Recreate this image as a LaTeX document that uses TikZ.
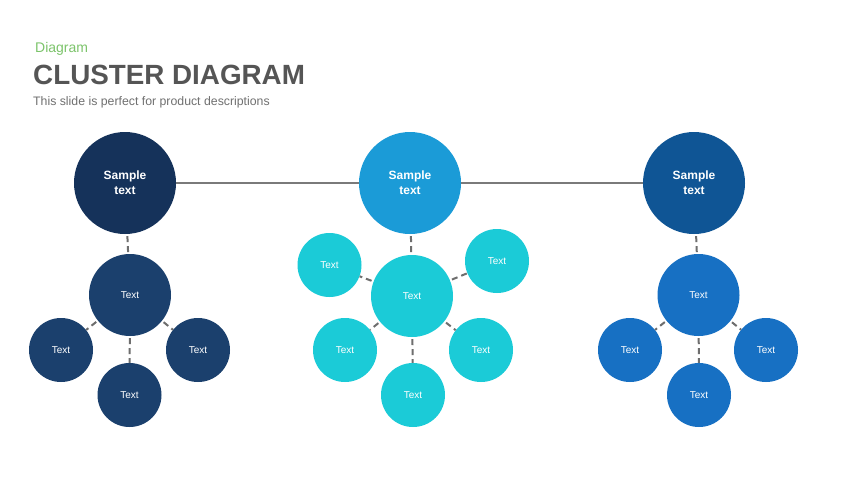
\documentclass[tikz,border=0pt]{standalone}
\usepackage{fontspec}
\setmainfont{Liberation Sans}
\definecolor{lbig}{HTML}{15325A}
\definecolor{lkid}{HTML}{1B406D}
\definecolor{mbig}{HTML}{1B9BD7}
\definecolor{mkid}{HTML}{1BCBD7}
\definecolor{rbig}{HTML}{0F5595}
\definecolor{rkid}{HTML}{1770C3}
\definecolor{linegray}{HTML}{7A7A7A}
\definecolor{dashgray}{HTML}{6E6E6E}
\definecolor{titlegray}{HTML}{555555}
\definecolor{subgray}{HTML}{707070}
\definecolor{greenlbl}{HTML}{7CC46B}
\tikzset{
  bigc/.style={circle, minimum size=102pt, inner sep=0pt, text=white, align=center, font=\fontsize{12}{15}\selectfont\bfseries},
  midc/.style={circle, minimum size=82pt, inner sep=0pt, text=white, font=\fontsize{10}{12}\selectfont},
  smallc/.style={circle, minimum size=64pt, inner sep=0pt, text=white, font=\fontsize{10}{12}\selectfont},
  solidlink/.style={draw=linegray, line width=1.5pt},
  dashlink/.style={draw=dashgray, line width=2pt, dash pattern=on 6pt off 4pt, dash phase=-2pt},
}
\begin{document}
\begin{tikzpicture}[x=1pt,y=-1pt]
\path[fill=white] (0,0) rectangle (853,480);
\useasboundingbox (0,0) rectangle (853,480);
% titles
\node[anchor=base west, inner sep=0pt, text=greenlbl, font=\fontsize{14}{16}\selectfont] (kicker) at (35,52) {Diagram};
\node[anchor=base west, inner sep=0pt, text=titlegray, font=\fontsize{27.8}{30}\selectfont\bfseries] (title) at (33,84) {CLUSTER DIAGRAM};
\node[anchor=base west, inner sep=0pt, text=subgray, font=\fontsize{12.3}{14}\selectfont] (sub) at (33,105) {This slide is perfect for product descriptions};
% big circles
\node[bigc, fill=lbig] (L) at (125,183) {Sample\\text};
\node[bigc, fill=mbig] (M) at (410,183) {Sample\\text};
\node[bigc, fill=rbig] (R) at (694,183) {Sample\\text};
% left cluster
\node[midc, fill=lkid] (Lc) at (130,295) {Text};
\node[smallc, fill=lkid] (Ll) at (61,350) {Text};
\node[smallc, fill=lkid] (Lr) at (198,350) {Text};
\node[smallc, fill=lkid] (Lb) at (129.5,395) {Text};
% middle cluster
\node[midc, fill=mkid] (Mc) at (412,296) {Text};
\node[smallc, fill=mkid] (Mul) at (329.5,265) {Text};
\node[smallc, fill=mkid] (Mur) at (497,261) {Text};
\node[smallc, fill=mkid] (Mll) at (345,350) {Text};
\node[smallc, fill=mkid] (Mlr) at (481,350) {Text};
\node[smallc, fill=mkid] (Mb) at (413,395) {Text};
% right cluster
\node[midc, fill=rkid] (Rc) at (698.5,295) {Text};
\node[smallc, fill=rkid] (Rl) at (630,350) {Text};
\node[smallc, fill=rkid] (Rr) at (766,350) {Text};
\node[smallc, fill=rkid] (Rb) at (699,395) {Text};
% connectors
\draw[solidlink] (L) -- (M);
\draw[solidlink] (M) -- (R);
\draw[dashlink] (L) -- (Lc);
\draw[dashlink] (Lc) -- (Ll);
\draw[dashlink] (Lc) -- (Lr);
\draw[dashlink] (Lc) -- (Lb);
\draw[dashlink] (M) -- (Mc);
\draw[dashlink] (Mc) -- (Mul);
\draw[dashlink] (Mc) -- (Mur);
\draw[dashlink] (Mc) -- (Mll);
\draw[dashlink] (Mc) -- (Mlr);
\draw[dashlink] (Mc) -- (Mb);
\draw[dashlink] (R) -- (Rc);
\draw[dashlink] (Rc) -- (Rl);
\draw[dashlink] (Rc) -- (Rr);
\draw[dashlink] (Rc) -- (Rb);
\end{tikzpicture}
\end{document}
